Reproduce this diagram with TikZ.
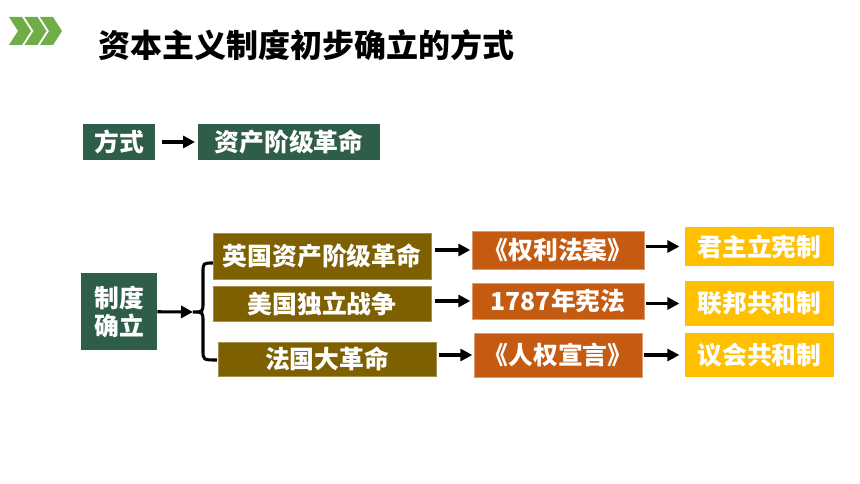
\documentclass[tikz,border=0pt]{standalone}
\usepackage{fontspec}
\setmainfont{Noto Sans CJK SC}
\usetikzlibrary{arrows.meta}
\definecolor{dkgreen}{RGB}{46,94,73}
\definecolor{olivebrown}{RGB}{127,96,0}
\definecolor{burnt}{RGB}{197,90,17}
\definecolor{gold}{RGB}{255,192,0}
\definecolor{leaf}{RGB}{112,173,71}
\tikzset{
  box/.style={inner sep=0pt, text=white, font=\fontsize{18.6pt}{21pt}\selectfont\bfseries, align=center},
  sz/.style 2 args={minimum width=#1*0.75pt, minimum height=#2*0.75pt},
  gbox/.style={box, fill=dkgreen},
  bbox/.style={box, fill=olivebrown, draw=olivebrown!70!white, line width=0.5pt},
  obox/.style={box, fill=burnt, draw=burnt!60!white, line width=0.5pt},
  ybox/.style={box, fill=gold},
  arr/.style={line width=2.3pt, -{Triangle[length=9pt,width=9pt]}},
}
\begin{document}
\begin{tikzpicture}[x=0.75pt, y=-0.75pt]
        \useasboundingbox (0,0) rectangle (860,484);
        % icon and title
        \foreach \i in {0,1,2}
            \fill[leaf] ({9+15.5*\i},17) -- ++(13,0) -- ++(9,14) -- ++(-9,14) -- ++(-13,0) -- ++(9,-14) -- cycle;
        \node[anchor=west, font=\fontsize{24pt}{26pt}\selectfont\bfseries] (title) at (94,45) {资本主义制度初步确立的方式};
        % first row
        \node[gbox, sz={72}{36}] (fs) at (119,142) {方式};
        \node[gbox, sz={182}{36}] (zc) at (289,142) {资产阶级革命};
        \draw[arr, shorten <=5pt, shorten >=2pt] (fs) -- (zc);
        % second part
        \node[gbox, sz={76}{77}] (zd) at (119,311.5) {制度\\确立};
        \node[bbox, sz={218}{46}] (b1) at (322,256) {英国资产阶级革命};
        \node[bbox, sz={218}{35}] (b2) at (322,303.5) {美国独立战争};
        \node[bbox, sz={218}{34}] (b3) at (327,359) {法国大革命};
        \node[obox, sz={172}{38}] (o1) at (558,250) {《权利法案》};
        \node[obox, sz={172}{36}] (o2) at (558,301) {1787年宪法};
        \node[obox, sz={168}{44}] (o3) at (558,355) {《人权宣言》};
        \node[ybox, sz={149}{39}] (y1) at (759.5,246.5) {君主立宪制};
        \node[ybox, sz={149}{45}] (y2) at (759.5,303.5) {联邦共和制};
        \node[ybox, sz={149}{44}] (y3) at (759.5,355) {议会共和制};
        % brace
        \coordinate (brT) at (213,263);
        \coordinate (brM) at (193,312);
        \coordinate (brB) at (217,360);
        \draw[line width=2.3pt] (brT) .. controls (203,263) .. (203,273) -- (203,302) .. controls (203,312) .. (brM)
            .. controls (203,312) .. (203,322) -- (203,350) .. controls (203,360) .. (brB);
        \draw[arr] (zd) -- (brM);
        % arrows
        \draw[arr, shorten <=3pt, shorten >=1pt] (b1.east |- o1.west) -- (o1.west);
        \draw[arr, shorten <=3pt, shorten >=1pt] (b2.east |- o2.west) -- (o2.west);
        \draw[arr, shorten <=2pt, shorten >=1pt] (b3.east |- o3.west) -- (o3.west);
        \draw[arr, shorten <=1pt, shorten >=4pt] (o1.east |- y1.west) -- (y1.west);
        \draw[arr, shorten <=1pt, shorten >=4pt] (o2.east |- y2.west) -- (y2.west);
        \draw[arr, shorten <=1pt, shorten >=4pt] (o3.east |- y3.west) -- (y3.west);
\end{tikzpicture}
\end{document}
